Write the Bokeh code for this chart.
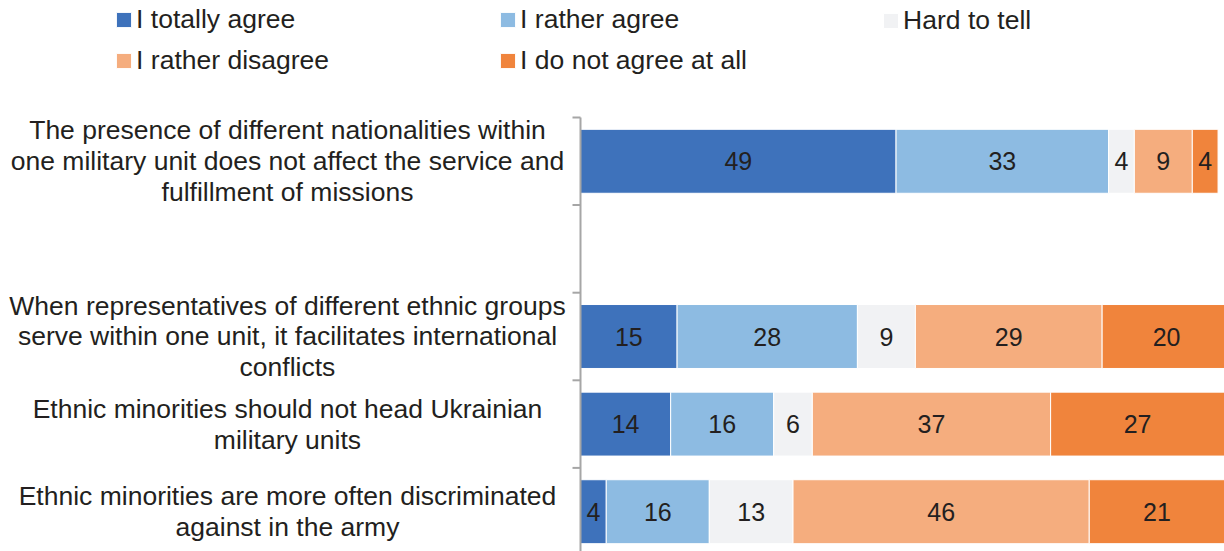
from bokeh.plotting import figure
from bokeh.models import Range1d, Legend, LegendItem, Label, ColumnDataSource
from bokeh.core.properties import value
from bokeh.embed import file_html
from bokeh.resources import INLINE

# ---- data ----
statements = [
    "The presence of different nationalities within\none military unit does not affect the service and\nfulfillment of missions",
    "",
    "When representatives of different ethnic groups\nserve within one unit, it facilitates international\nconflicts",
    "Ethnic minorities should not head Ukrainian\nmilitary units",
    "Ethnic minorities are more often discriminated\nagainst in the army",
]
series_names = ["I totally agree", "I rather agree", "Hard to tell", "I rather disagree", "I do not agree at all"]
totally_agree = [49, None, 15, 14, 4]
rather_agree = [33, None, 28, 16, 16]
hard_to_tell = [4, None, 9, 6, 13]
rather_disagree = [9, None, 29, 37, 46]
not_agree_at_all = [4, None, 20, 27, 21]
colors = ["#3E72BB", "#8DBBE2", "#F1F2F4", "#F5AD7E", "#F0843C"]

FONT = "Liberation Sans"
TEXT_COLOR = "#231F20"
AXIS_COLOR = "#A6A6A6"
W, H = 1224, 551
PX_PER_UNIT = 6.44          # horizontal scale of the bar area
LABEL_AREA = 580            # pixels left of the bar area
TICK_LEN = 8 / PX_PER_UNIT

series = [totally_agree, rather_agree, hard_to_tell, rather_disagree, not_agree_at_all]
keys = ["s0", "s1", "s2", "s3", "s4"]

rows = [i for i, v in enumerate(totally_agree) if v is not None]
data = {"y": rows}
for k, s in zip(keys, series):
    data[k] = [s[i] for i in rows]
source = ColumnDataSource(data)

n = len(statements)
slot_px = 87.6
top_px = 117
y_top = -0.5 - top_px / slot_px
y_bottom = -0.5 + (H - top_px) / slot_px

p = figure(width=W, height=H, output_backend="svg", toolbar_location=None,
           x_range=Range1d(-LABEL_AREA / PX_PER_UNIT, (W - LABEL_AREA) / PX_PER_UNIT),
           y_range=Range1d(y_bottom, y_top),
           x_axis_location=None, y_axis_location=None,
           min_border_left=0, min_border_right=0, min_border_top=0, min_border_bottom=0)
p.outline_line_color = None
p.grid.visible = False
p.background_fill_color = "white"
p.border_fill_color = "white"

renderers = p.hbar_stack(keys, y="y", height=0.73, color=colors, source=source,
                         line_color="white", line_width=1)

# value labels in the middle of each segment
tx, ty, tt = [], [], []
for r in rows:
    left = 0
    for s in series:
        v = s[r]
        tx.append(left + v / 2)
        ty.append(r)
        tt.append(str(v))
        left += v
p.text(x=tx, y=ty, text=tt, text_align="center", text_baseline="middle",
       text_font=value(FONT), text_font_size="25px", text_color=TEXT_COLOR)

# category axis: vertical line at the bars' origin, ticks at slot boundaries
p.segment(x0=[0], y0=[-0.5], x1=[0], y1=[n - 0.5], line_color=AXIS_COLOR, line_width=2)
bounds = [i - 0.5 for i in range(n + 1)]
p.segment(x0=[-TICK_LEN] * len(bounds), y0=bounds, x1=[0] * len(bounds), y1=bounds,
          line_color=AXIS_COLOR, line_width=2)

# category labels
for i, s in enumerate(statements):
    if s:
        p.add_layout(Label(x=-45.5, y=i, text=s, text_align="center", text_baseline="middle",
                           text_font=FONT, text_font_size="26.5px", text_color=TEXT_COLOR,
                           text_line_height=1.03))

# legend: three columns
cols = [[0, 3], [1, 4], [2]]
col_x = [114.1, 498.1, 881.1]
col_y = [475, 475, 515]
for c, xloc, yloc in zip(cols, col_x, col_y):
    items = [LegendItem(label=series_names[k], renderers=[renderers[k]]) for k in c]
    leg = Legend(items=items, location=(xloc, yloc), orientation="vertical",
                 glyph_width=19, glyph_height=19, label_height=19, label_standoff=3,
                 spacing=10, padding=0, margin=0, border_line_color=None,
                 background_fill_alpha=0, label_text_font=FONT, label_text_font_size="26.5px",
                 label_text_color=TEXT_COLOR)
    p.add_layout(leg, "center")

open("out.html", "w").write(file_html(p, INLINE))
